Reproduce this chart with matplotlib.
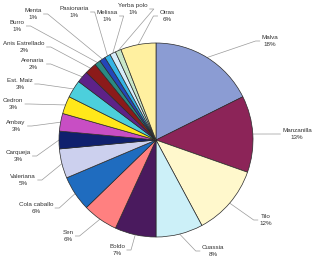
#!/usr/bin/env python3
"""Pie chart of medicinal herb shares."""

import matplotlib
matplotlib.use("Agg")
import matplotlib.pyplot as plt
import numpy as np

herbs = ["Malva", "Manzanilla", "Tilo", "Cuassia", "Boldo", "Sen", "Cola caballo",
         "Valeriana", "Carqueja", "Ambay", "Cedron", "Est. Maiz", "Arenaria",
         "Anis Estrellado", "Burro", "Menta", "Pasionaria", "Melissa", "Yerba polo",
         "Otras"]
shares = [18, 13, 12, 8, 7, 6, 6, 5, 3, 3, 3, 3, 2, 2, 1, 1, 1, 1, 1, 6]
colors = ["#8b9cd3", "#8c2458", "#fff8cc", "#ccf0f8", "#4a1a5e", "#ff8080", "#1f6cbf",
          "#ccd0ee", "#10206e", "#c84ec4", "#ffe81a", "#4ccfdc", "#5e2288", "#8c1a1a",
          "#2a8a82", "#2446b8", "#36b4e6", "#d6ecfa", "#c8e6c8", "#fff0a0"]

# label centres in pixels (x from left, y from top)
label_px = [(270, 41), (297, 134), (266, 220), (213, 251), (117, 250), (68, 236),
            (36, 208), (23, 180), (18, 156), (16, 126), (13, 104), (20, 84),
            (33, 64), (24, 47), (17, 26), (33, 14), (74, 12), (107, 16),
            (133, 9), (167, 16)]

W, H = 317, 259
CX, CY, R = 156, 140, 97


def to_data(px, py):
    return (px - CX) / R, (CY - py) / R


fig = plt.figure(figsize=(W / 100, H / 100), dpi=100)
ax = fig.add_axes([0, 0, 1, 1])

wedges, _ = ax.pie(shares, colors=colors, startangle=90, counterclock=False,
                   radius=1.0, wedgeprops=dict(edgecolor="#2a2a2a", linewidth=0.5))

# pie() resets the limits, so fix the pixel mapping afterwards
ax.set_xlim(to_data(0, 0)[0], to_data(W, 0)[0])
ax.set_ylim(to_data(0, H)[1], to_data(0, 0)[1])
ax.set_aspect("equal")
ax.axis("off")

texts = []
for name, val, (px, py) in zip(herbs, shares, label_px):
    tx, ty = to_data(px, py)
    t = ax.text(tx, ty, f"{name}\n{val}%", ha="center", va="center", fontsize=4.5,
                family=["Liberation Sans", "DejaVu Sans"], color="#333333",
                linespacing=1.3)
    texts.append(t)

fig.canvas.draw()
renderer = fig.canvas.get_renderer()
inv = ax.transData.inverted()

# Excel style leader lines: wedge edge -> elbow -> short horizontal into label
for w, t in zip(wedges, texts):
    mid = np.deg2rad((w.theta1 + w.theta2) / 2)
    ex, ey = np.cos(mid), np.sin(mid)
    bb = t.get_window_extent(renderer)
    cy = (bb.y0 + bb.y1) / 2
    if (bb.x0 + bb.x1) / 2 > ax.transData.transform((0, 0))[0]:
        ax_pt = (bb.x0 - 1.5, cy)
        el_pt = (bb.x0 - 6, cy)
    else:
        ax_pt = (bb.x1 + 1.5, cy)
        el_pt = (bb.x1 + 6, cy)
    a = inv.transform(ax_pt)
    e = inv.transform(el_pt)
    ax.plot([ex, e[0], a[0]], [ey, e[1], a[1]], color="#9a9a9a", lw=0.5,
            solid_capstyle="butt", zorder=0.5)

fig.savefig("out.png", dpi=100)
